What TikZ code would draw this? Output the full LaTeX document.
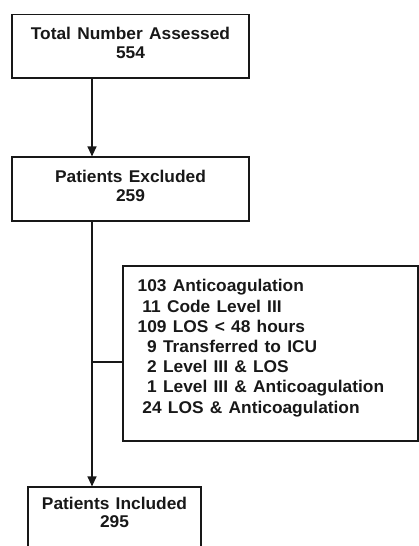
\documentclass[tikz,border=0pt]{standalone}
\usepackage{fontspec}
\setmainfont[WordSpace=1.3,FakeStretch=1.02]{Liberation Sans}
\usetikzlibrary{arrows.meta}
\definecolor{ink}{RGB}{24,24,24}
\newcommand\onesp{\hspace*{0.278em}}
\begin{document}
\begin{tikzpicture}[x=1pt,y=-1pt,
  box/.style={draw=ink, line width=1.2pt, inner sep=0pt, fill=none},
  lbl/.style={inner sep=0pt, text=ink, font=\bfseries\fontsize{17}{19.2}\selectfont, align=center, anchor=north},
  listtxt/.style={inner sep=0pt, text=ink, font=\bfseries\fontsize{17}{20.2}\selectfont, align=left, anchor=north west},
  arr/.style={draw=ink, line width=1.2pt, -{Triangle[length=10pt,width=9pt]}},
  conn/.style={draw=ink, line width=1.2pt}]
\useasboundingbox (0,0) rectangle (419,546);
% boxes
\node[box, minimum width=237pt, minimum height=63.3pt] (b1) at (130.5,46.35) {};
\node[box, minimum width=237pt, minimum height=64pt] (b2) at (130.5,189) {};
\node[box, minimum width=295pt, minimum height=175pt] (list) at (270.5,353.5) {};
\node[box, minimum width=173pt, minimum height=73pt] (b3) at (114.5,523.5) {};
% texts
\node[lbl] (t1) at (130.5,26.8) {Total Number Assessed\\554};
\node[lbl] (t2) at (130.5,169.5) {Patients Excluded\\259};
\node[lbl, font=\bfseries\fontsize{17}{18.2}\selectfont] (t3) at (114.5,496.8) {Patients Included\\295};
\node[listtxt] (lt) at (137.5,279.3) {103 Anticoagulation\\
\onesp 11 Code Level III\\
109 LOS < 48 hours\\
\onesp\onesp 9 Transferred to ICU\\
\onesp\onesp 2 Level III \& LOS\\
\onesp\onesp 1 Level III \& Anticoagulation\\
\onesp 24 LOS \& Anticoagulation};
% connectors
\coordinate (spine) at (92,0);
\coordinate (branch) at (92,362);
\draw[arr] (b1.south -| spine) -- (b2.north -| spine);
\draw[arr] (b2.south -| spine) -- (b3.north -| spine);
\draw[conn] (branch) -- (branch -| list.west);
\end{tikzpicture}
\end{document}
